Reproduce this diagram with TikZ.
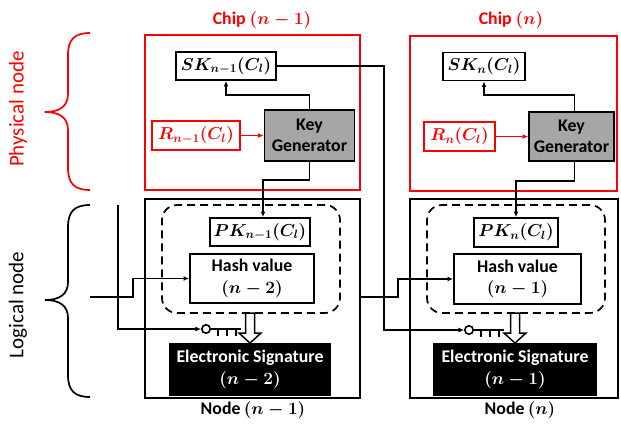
\documentclass[tikz,border=0pt]{standalone}
\usepackage[no-math]{fontspec}
\setmainfont{Carlito}
\usepackage{amsmath}
\usetikzlibrary{arrows.meta}
\definecolor{kgray}{RGB}{168,165,165}
\definecolor{cred}{RGB}{255,0,0}
\tikzset{
  txt/.style={font=\fontsize{17.8}{21.5}\selectfont\bfseries\boldmath},
  box/.style={draw, line width=1.9pt, inner sep=0pt, align=center, txt},
  redbox/.style={box, draw=cred, text=cred},
  chipbox/.style={draw=cred, line width=2.6pt, inner sep=0pt},
  nodebox/.style={draw, line width=1.9pt, inner sep=0pt},
  kgbox/.style={box, fill=kgray},
  sigbox/.style={box, fill=black, text=white},
  dashbox/.style={draw, line width=1.7pt, dash pattern=on 8pt off 5pt, rounded corners=15pt, inner sep=0pt},
  conn/.style={line width=1.7pt, -{Latex[length=5.5pt,width=5pt]}},
  keyc/.style={circle, draw, line width=1.6pt, minimum size=8.5pt, inner sep=0pt},
  hollow/.style={draw, line width=1.5pt, fill=white},
  bracestyle/.style={line width=1.7pt},
  sidelabel/.style={rotate=90, font=\fontsize{21}{24}\selectfont}
}
\begin{document}
\begin{tikzpicture}[x=1pt,y=-1pt]
\useasboundingbox (0,0) rectangle (621,423);

% titles
\node[txt, text=cred] (chipAlab) at (262,20) {Chip $(n-1)$};
\node[txt, text=cred] (chipBlab) at (511,20) {Chip $(n)$};
\node[txt] (nodeAlab) at (253,410) {Node$\,(n-1)$};
\node[txt] (nodeBlab) at (520,410) {Node$\,(n)$};

% side labels
\node[sidelabel, text=cred] (phys) at (18,109) {Physical node};
\node[sidelabel] (logi) at (18,305) {Logical node};

% braces
\draw[bracestyle, cred] (90,33) .. controls (74,33) and (68,40) .. (68,55) -- (68,94)
  .. controls (68,106) and (60,112) .. (45,112) .. controls (60,112) and (68,118) .. (68,130)
  -- (68,168) .. controls (68,183) and (74,190) .. (90,190);
\draw[bracestyle] (90,205) .. controls (74,205) and (68,212) .. (68,227) -- (68,282)
  .. controls (68,294) and (60,300) .. (45,300) .. controls (60,300) and (68,306) .. (68,318)
  -- (68,375) .. controls (68,390) and (74,397) .. (90,397);

% chips
\node[chipbox, minimum width=215pt, minimum height=155pt] (chipA) at (252.5,112.5) {};
\node[chipbox, minimum width=207pt, minimum height=155pt] (chipB) at (513.5,113.5) {};

% logical nodes
\node[nodebox, minimum width=215pt, minimum height=199pt] (nodeA) at (252.5,298.5) {};
\node[nodebox, minimum width=208pt, minimum height=199pt] (nodeB) at (514,298.5) {};

% dashed groups
\node[dashbox, minimum width=178pt, minimum height=108pt] (dashA) at (251,259) {};
\node[dashbox, minimum width=178pt, minimum height=108pt] (dashB) at (516,259) {};

% chip contents
\node[box, minimum width=100pt, minimum height=28pt] (skA) at (226,66) {$SK_{n-1}(C_l)$};
\node[box, minimum width=82pt, minimum height=28pt] (skB) at (484,66.5) {$SK_{n}(C_l)$};
\node[redbox, minimum width=88pt, minimum height=29pt] (rA) at (196,135.5) {$R_{n-1}(C_l)$};
\node[redbox, minimum width=71pt, minimum height=29pt] (rB) at (459.5,136.5) {$R_{n}(C_l)$};
\node[kgbox, minimum width=90pt, minimum height=51pt] (kgA) at (309.5,135.5) {Key\\Generator};
\node[kgbox, minimum width=85pt, minimum height=49pt] (kgB) at (571.5,136.5) {Key\\Generator};

% node contents
\node[box, minimum width=100pt, minimum height=28pt] (pkA) at (260,232) {$PK_{n-1}(C_l)$};
\node[box, minimum width=84pt, minimum height=29pt] (pkB) at (516,232.5) {$PK_{n}(C_l)$};
\node[box, minimum width=124pt, minimum height=49pt] (hashA) at (252,278.5) {Hash value\\$(n-2)$};
\node[box, minimum width=127pt, minimum height=50pt] (hashB) at (517.5,279) {Hash value\\$(n-1)$};
\node[sigbox, minimum width=160pt, minimum height=51pt] (sigA) at (250,369.5) {Electronic Signature\\$(n-2)$};
\node[sigbox, minimum width=162pt, minimum height=51pt] (sigB) at (515,369.5) {Electronic Signature\\$(n-1)$};

% keys
\node[keyc] (keyA) at (206,329) {};
\node[keyc] (keyB) at (469,330) {};
\draw[line width=1.8pt] (keyA.east) -- ++(30,0) (218,329) -- (218,336) (227,329) -- (227,336) (236,329) -- (236,336);
\draw[line width=1.8pt] (keyB.east) -- ++(30,0) (481,330) -- (481,337) (490,330) -- (490,337) (499,330) -- (499,337);

% hollow arrows
\draw[hollow] (sigA.north) -- ++(-11,-10) -- ++(6.5,0) -- ++(0,-20) -- ++(9,0) -- ++(0,20) -- ++(6.5,0) -- cycle;
\draw[hollow] (sigB.north) -- ++(-11,-10) -- ++(6.5,0) -- ++(0,-20) -- ++(9,0) -- ++(0,20) -- ++(6.5,0) -- cycle;

% key generator connections
\draw[conn] (kgA.north) -- ++(0,-14) -| (skA.south);
\draw[conn] (kgB.north) ++(3,0) -- ++(0,-16) -| (skB.south);
\draw[conn] (kgA.south) -- ++(0,18) -| ([xshift=3pt]pkA.north);
\draw[conn] ([xshift=3pt]kgB.south) -- ++(0,19) -| (pkB.north);
\draw[conn, draw=cred] (rA.east) -- (kgA.west |- rA.east);
\draw[conn, draw=cred] (rB.east) -- (kgB.west |- rB.east);

% inputs
\coordinate (inA) at (118,205);
\coordinate (hinA) at (90,297);
\draw[conn] (inA) |- (keyA.west);
\draw[conn] (hinA) -- (133,297) |- (hashA.west);
\draw[conn] (skA.east) -| (384,330) -- (keyB.west);
\draw[conn] (nodeA.east |- hinA) -- (398,297) |- (hashB.west);
\end{tikzpicture}
\end{document}
